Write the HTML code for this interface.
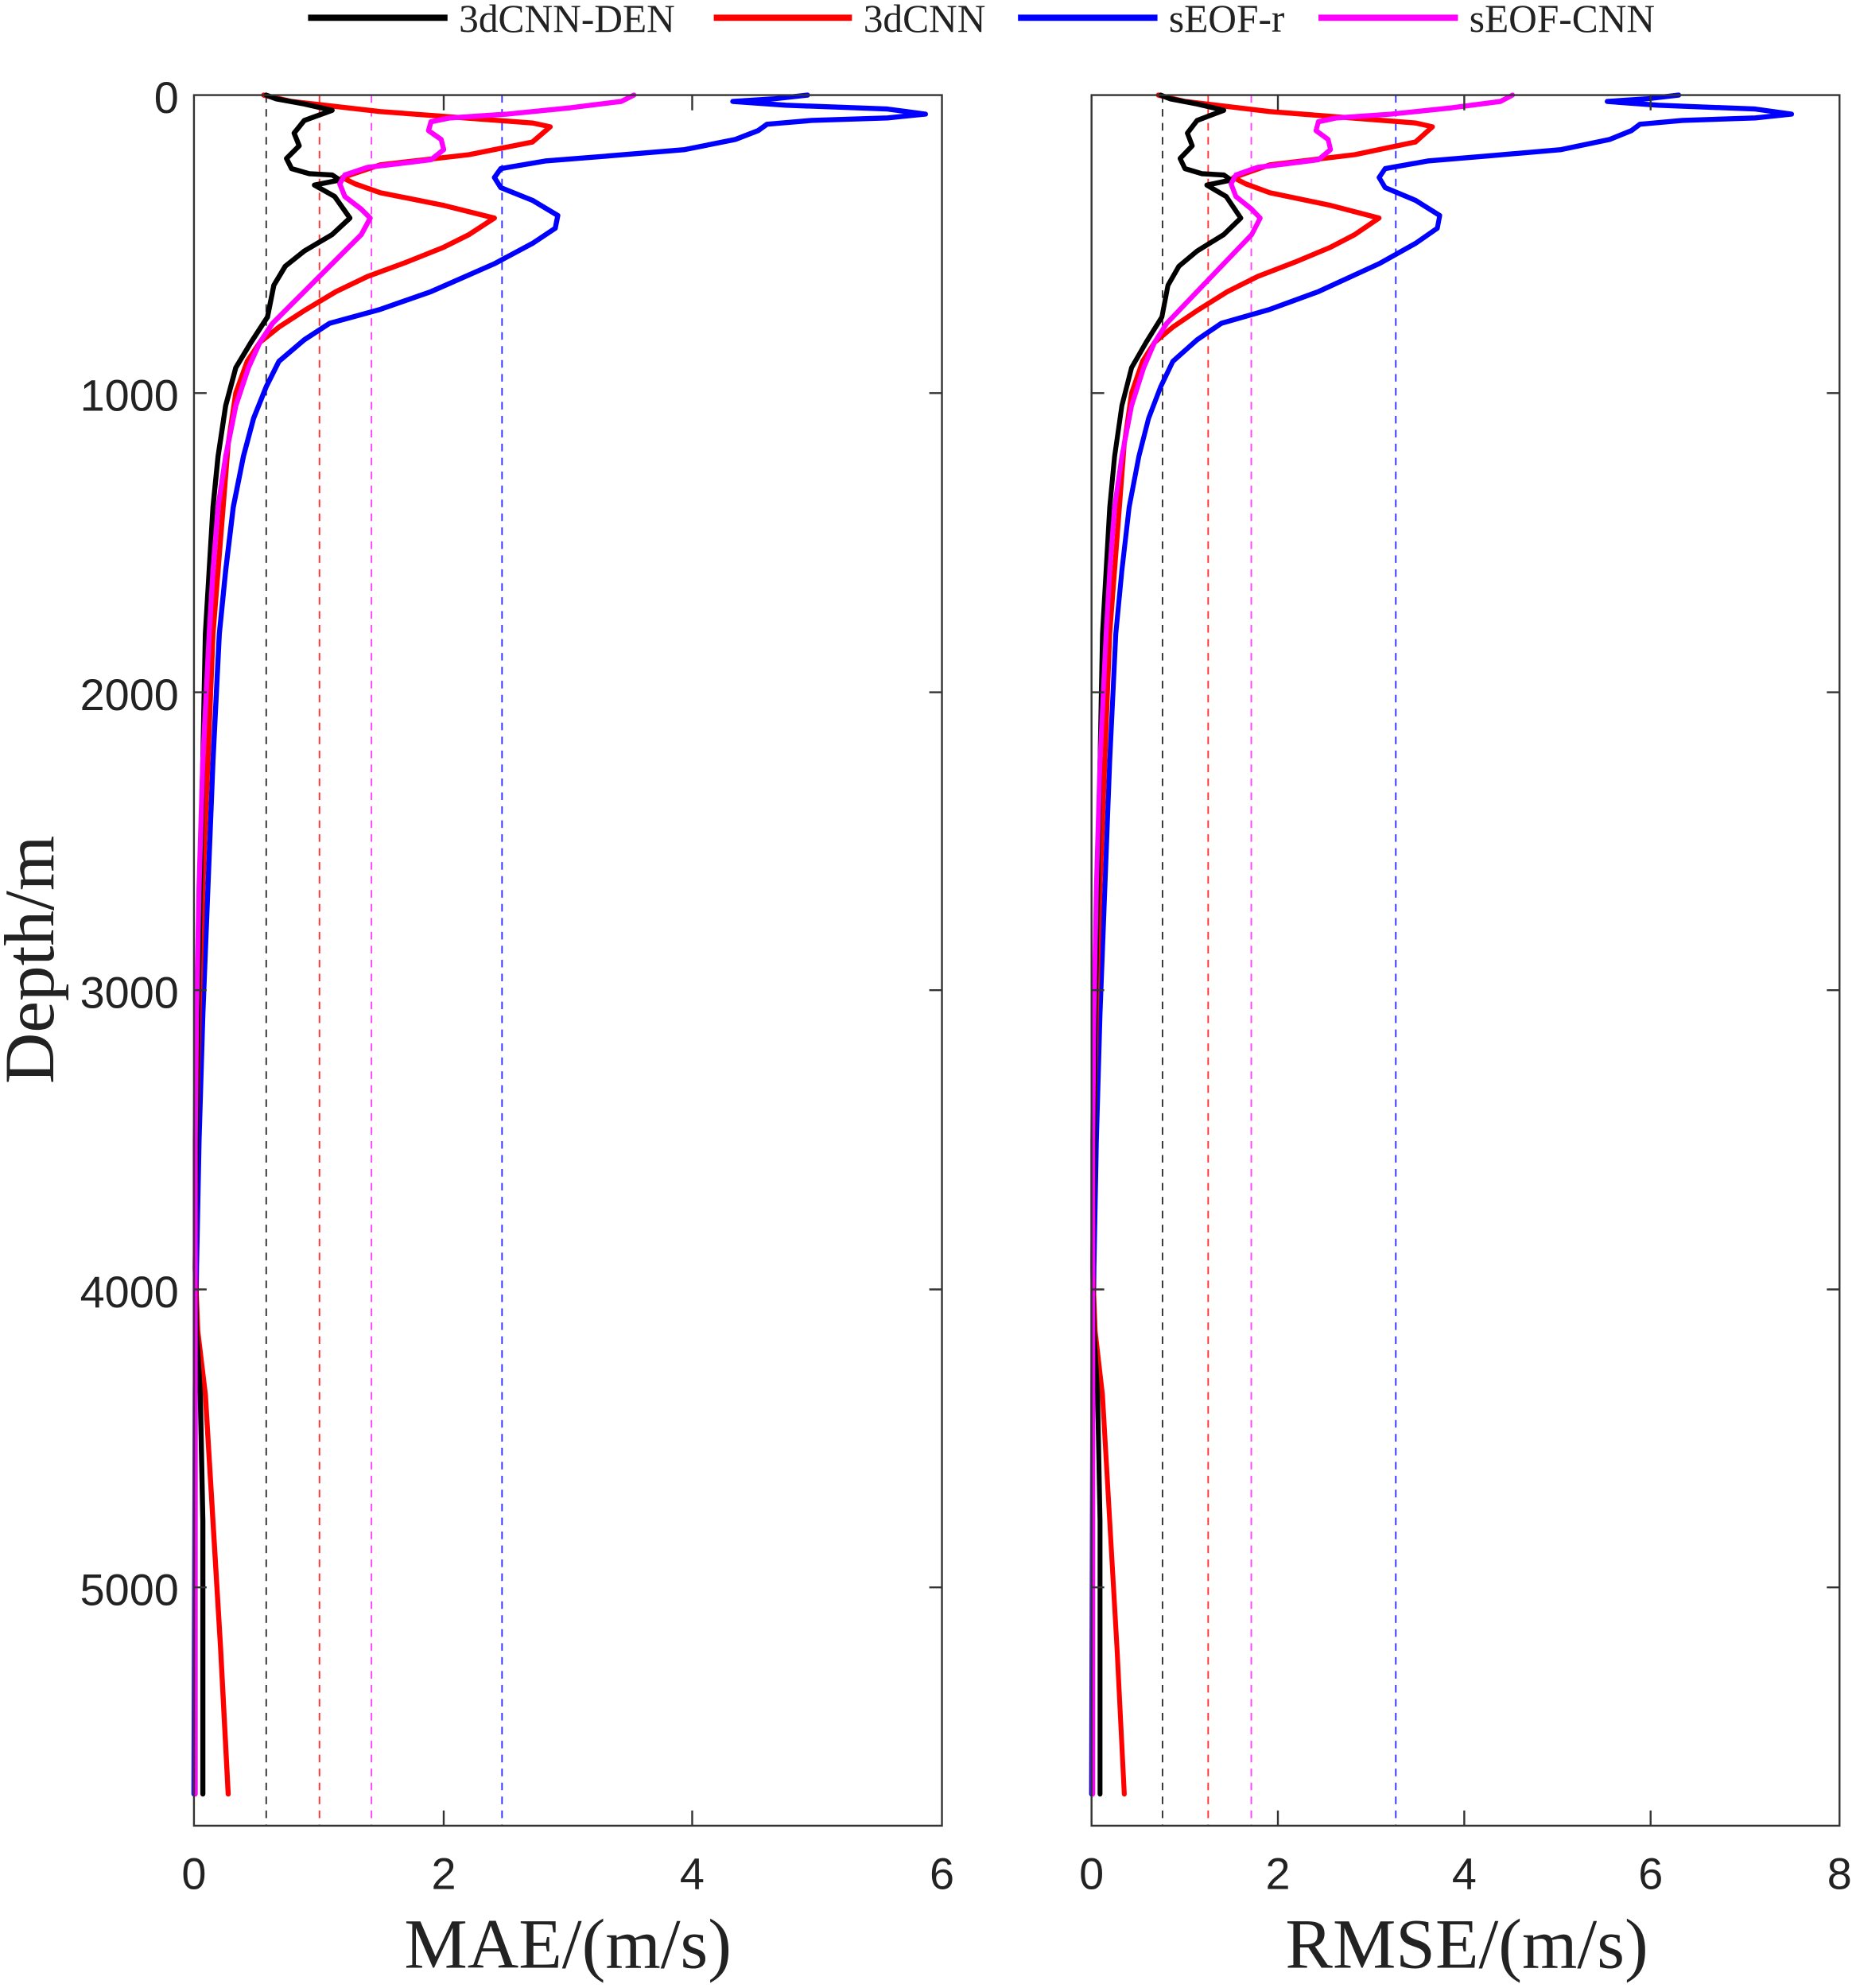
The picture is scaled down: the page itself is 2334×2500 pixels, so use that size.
<!DOCTYPE html>
<html><head><meta charset="utf-8"><style>html,body{margin:0;padding:0;background:#fff}svg{display:block}</style></head>
<body>
<svg width="2334" height="2500" viewBox="0 0 1464 1568" preserveAspectRatio="none" xmlns="http://www.w3.org/2000/svg">
<defs>
<g id="curves" fill="none" stroke-width="4" stroke-linejoin="round" stroke-linecap="round">
<polyline stroke="#0000ff" points="637,75 610,78 578,80 620,83 700,86 730,90 700,93 640,95 605,98 598,103 580,110 540,118 480,123 430,127 395,133 390,140 395,148 420,158 440,170 438,180 420,192 390,208 340,230 300,244 260,255 240,268 220,285 210,305 200,330 192,360 184,400 178,450 173,500 168,600 164,700 160,800 157,900 155,1000 154,1100 153,1415"/>
<polyline stroke="#ff0000" points="208,75 230,80 300,88 420,97 434,100 420,112 370,122 300,130 270,140 280,145 300,152 350,162 390,172 370,185 350,195 320,207 290,218 265,230 240,245 220,258 205,270 195,285 186,310 180,350 176,400 172,450 168,500 164,600 160,700 157,800 155,900 154,1000 156,1050 162,1100 168,1200 174,1300 180,1415"/>
<polyline stroke="#000" points="210,75 218,78 240,82 262,87 240,95 232,105 236,115 226,125 230,133 244,137 262,138 268,142 248,146 264,155 276,172 262,185 240,198 225,210 216,225 213,240 211,250 198,270 186,290 178,320 172,360 168,400 165,450 162,500 160,600 158,700 156,800 155,900 154,1000 155,1050 158,1100 160,1200 160,1415"/>
<polyline stroke="#ff00ff" points="500,75 490,80 450,85 400,90 355,93 340,96 338,103 348,110 350,118 340,126 290,132 272,138 268,145 272,155 285,165 292,172 285,185 270,200 250,220 230,240 215,255 205,270 196,290 186,320 178,360 172,400 168,450 165,500 160,600 157,700 155,800 154,900 154,1415"/>
</g>
</defs>
<g stroke-width="5">
<line x1="243" y1="14" x2="353" y2="14" stroke="#000"/>
<line x1="563" y1="14" x2="672" y2="14" stroke="#f00"/>
<line x1="803" y1="14" x2="913" y2="14" stroke="#00f"/>
<line x1="1040" y1="14" x2="1150" y2="14" stroke="#f0f"/>
</g>
<g font-family="Liberation Serif, serif" font-size="31" fill="#222">
<text x="362" y="25">3dCNN-DEN</text>
<text x="681" y="25">3dCNN</text>
<text x="922" y="25">sEOF-r</text>
<text x="1159" y="25">sEOF-CNN</text>
</g>
<g stroke-width="1.2" stroke-dasharray="6,5">
<line x1="210" y1="75" x2="210" y2="1440" stroke="#333"/>
<line x1="252" y1="75" x2="252" y2="1440" stroke="#f33"/>
<line x1="293" y1="75" x2="293" y2="1440" stroke="#f4f"/>
<line x1="396" y1="75" x2="396" y2="1440" stroke="#33f"/>
<line x1="917" y1="75" x2="917" y2="1440" stroke="#333"/>
<line x1="953" y1="75" x2="953" y2="1440" stroke="#f33"/>
<line x1="987" y1="75" x2="987" y2="1440" stroke="#f4f"/>
<line x1="1101" y1="75" x2="1101" y2="1440" stroke="#33f"/>
</g>
<use href="#curves"/>
<g transform="translate(861,0) scale(0.957,1) translate(-153,0)"><use href="#curves"/></g>
<g fill="none" stroke="#333" stroke-width="1.5">
<rect x="153" y="75" width="590" height="1365"/>
<rect x="861" y="75" width="590" height="1365"/>
<path d="M153,310h10M153,546h10M153,781h10M153,1017h10M153,1252h10M743,310h-10M743,546h-10M743,781h-10M743,1017h-10M743,1252h-10
M861,310h10M861,546h10M861,781h10M861,1017h10M861,1252h10M1451,310h-10M1451,546h-10M1451,781h-10M1451,1017h-10M1451,1252h-10
M350,1440v-12M546,1440v-12M350,75v12M546,75v12
M1008,1440v-12M1155,1440v-12M1302,1440v-12M1008,75v12M1155,75v12M1302,75v12"/>
</g>
<g font-family="Liberation Sans, sans-serif" font-size="35" fill="#222" text-anchor="end">
<text x="141" y="89">0</text>
<text x="141" y="324">1000</text>
<text x="141" y="560">2000</text>
<text x="141" y="795">3000</text>
<text x="141" y="1031">4000</text>
<text x="141" y="1266">5000</text>
</g>
<g font-family="Liberation Sans, sans-serif" font-size="35" fill="#222" text-anchor="middle">
<text x="153" y="1490">0</text><text x="350" y="1490">2</text><text x="546" y="1490">4</text><text x="743" y="1490">6</text>
<text x="861" y="1490">0</text><text x="1008" y="1490">2</text><text x="1155" y="1490">4</text><text x="1302" y="1490">6</text><text x="1451" y="1490">8</text>
</g>
<g font-family="Liberation Serif, serif" font-size="56" fill="#222" text-anchor="middle">
<text x="448" y="1552">MAE/(m/s)</text>
<text x="1157" y="1552">RMSE/(m/s)</text>
<text transform="translate(42,757) rotate(-90)">Depth/m</text>
</g>
</svg>
</body></html>
